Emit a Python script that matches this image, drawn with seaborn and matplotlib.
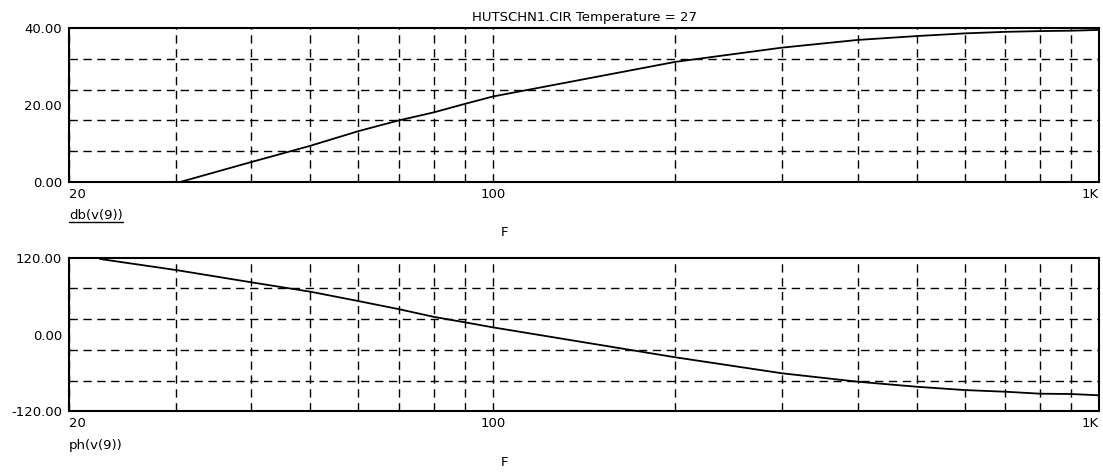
import numpy as np
import pandas as pd
import matplotlib.pyplot as plt
from matplotlib.lines import Line2D
import seaborn as sns

# values
freq_db = [30.5, 40, 50, 60, 70, 80, 90, 100, 200, 300, 400, 500, 600, 700, 800, 900, 1000]
db_v9 = [0.0, 5.2, 9.4, 13.2, 16.0, 18.1, 20.3, 22.2, 31.2, 34.9, 36.9, 37.9, 38.6, 39.0, 39.2, 39.3, 39.5]

freq_ph = [22.5, 30, 40, 50, 60, 70, 80, 90, 100, 200, 300, 400, 500, 600, 700, 800, 900, 1000]
ph_v9 = [118, 100.8, 81.5, 66.9, 52.3, 39.6, 27.5, 19.0, 11.2, -35.6, -60.6, -73.8, -81.6, -86.8, -89.4, -92.5, -93.0, -95.0]

x_ticks = [20, 100, 1000]
x_labels = ['20', '100', '1K']
x_grid = [30, 40, 50, 60, 70, 80, 90, 100, 200, 300, 400, 500, 600, 700, 800, 900]

db_ticks = [0, 20, 40]
db_labels = ['0.00', '20.00', '40.00']
db_grid = [8, 16, 24, 32]

ph_ticks = [-120, 0, 120]
ph_labels = ['-120.00', '0.00', '120.00']
ph_grid = [-72, -24, 24, 72]

sns.set_theme(style='white')
plt.rcParams['font.family'] = ['DejaVu Sans']
plt.rcParams['text.color'] = 'black'
FS = 9.5

fig = plt.figure(figsize=(11.03, 4.72), dpi=100)
ax1 = fig.add_axes([69/1103, 1-182/472, 1030/1103, 154/472])
ax2 = fig.add_axes([69/1103, 1-411.3/472, 1030/1103, 153.6/472])

df1 = pd.DataFrame({'F': freq_db, 'db': db_v9})
df2 = pd.DataFrame({'F': freq_ph, 'ph': ph_v9})
sns.lineplot(data=df1, x='F', y='db', ax=ax1, color='black', lw=1.3)
sns.lineplot(data=df2, x='F', y='ph', ax=ax2, color='black', lw=1.3)


def style_axis(ax, yticks, ylabels, ygrid, ylim):
    ax.set_xscale('log')
    ax.set_xlim(20, 1000)
    ax.set_ylim(*ylim)
    ax.set_xticks(x_ticks)
    ax.set_xticklabels(x_labels)
    ax.set_xticks(x_grid, minor=True)
    ax.set_yticks(yticks)
    ax.set_yticklabels(ylabels)
    ax.set_yticks(ygrid, minor=True)
    ax.tick_params(which='both', length=0, colors='black', labelsize=FS)
    ax.tick_params(axis='x', pad=4)
    ax.tick_params(axis='y', pad=5)
    ax.grid(False)
    ax.grid(True, which='minor', color='black', linestyle=(0, (6, 4)), lw=1)
    ax.xaxis.grid(True, which='major', color='black', linestyle=(0, (6, 4)), lw=1)
    for s in ax.spines.values():
        s.set_color('black')
        s.set_linewidth(1.5)
    ax.set_xlabel('')
    ax.set_ylabel('')
    labs = ax.get_xticklabels()
    labs[0].set_horizontalalignment('left')
    labs[-1].set_horizontalalignment('right')


style_axis(ax1, db_ticks, db_labels, db_grid, (0, 40))
style_axis(ax2, ph_ticks, ph_labels, ph_grid, (-120, 120))

fig.text(584/1103, 1-17/472, 'HUTSCHN1.CIR Temperature = 27', ha='center', va='center', fontsize=FS)
t1 = fig.text(69/1103, 1-215/472, 'db(v(9))', ha='left', va='center', fontsize=FS)
fig.text(505/1103, 1-233/472, 'F', ha='center', va='center', fontsize=FS)
fig.text(69/1103, 1-445/472, 'ph(v(9))', ha='left', va='center', fontsize=FS)
fig.text(505/1103, 1-463/472, 'F', ha='center', va='center', fontsize=FS)

# underline for the selected trace name
fig.canvas.draw()
bb = t1.get_window_extent().transformed(fig.transFigure.inverted())
fig.add_artist(Line2D([bb.x0, bb.x1], [1-222/472, 1-222/472], color='black', lw=1))

fig.savefig('out.png', dpi=100, facecolor='white')
